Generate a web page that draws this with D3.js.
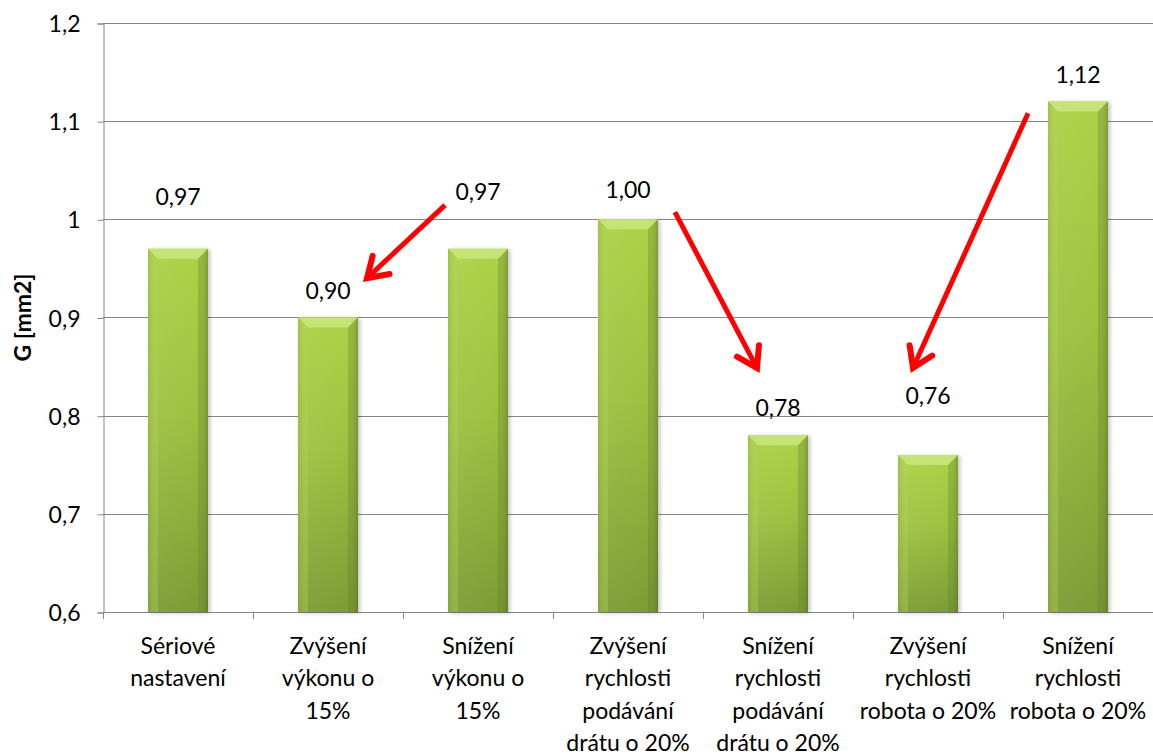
<!DOCTYPE html>
<html>
<head>
<meta charset="utf-8">
<script src="https://cdn.jsdelivr.net/npm/d3@7"></script>
<style>
  html, body { margin: 0; padding: 0; background: #fff; }
  svg text { font-family: Lato, "Open Sans", sans-serif; fill: #000; }
</style>
</head>
<body>
<svg id="chart" width="1153" height="756"></svg>
<script>
// Categories (multi-line labels) and measured values
const categories = [
  ["Sériové", "nastavení"],
  ["Zvýšení", "výkonu o", "15%"],
  ["Snížení", "výkonu o", "15%"],
  ["Zvýšení", "rychlosti", "podávání", "drátu o 20%"],
  ["Snížení", "rychlosti", "podávání", "drátu o 20%"],
  ["Zvýšení", "rychlosti", "robota o 20%"],
  ["Snížení", "rychlosti", "robota o 20%"]
];
const values = [0.97, 0.90, 0.97, 1.00, 0.78, 0.76, 1.12];
const valueLabels = ["0,97", "0,90", "0,97", "1,00", "0,78", "0,76", "1,12"];
// Value-axis level at which each data label is centred (labels were placed by hand)
const labelLevels = [1.0227, 0.927, 1.0278, 1.0299, 0.8078, 0.820, 1.147];
const yTicks = [0.6, 0.7, 0.8, 0.9, 1.0, 1.1, 1.2];
const yTickLabels = ["0,6", "0,7", "0,8", "0,9", "1", "1,1", "1,2"];
const yTitle = "G [mm2]";
// Annotation arrows: [category position, value] from -> to
const arrowFrom = [[2.28, 1.0145], [3.813, 1.0073], [6.167, 1.108]];
const arrowTo   = [[1.76, 0.940],  [4.36, 0.8485],  [5.40, 0.8485]];

const svg = d3.select("#chart");
const plotLeft = 103, plotRight = 1153, plotTop = 23, plotBottom = 612;

const x = d3.scaleBand().domain(d3.range(categories.length))
  .range([plotLeft, plotRight]).paddingInner(0.6).paddingOuter(0.3);
const xPos = d3.scaleLinear().domain([0, categories.length]).range([plotLeft, plotRight]);
const y = d3.scaleLinear().domain([0.6, 1.2]).range([plotBottom, plotTop]);

const defs = svg.append("defs");
const grad = defs.append("linearGradient").attr("id", "barGrad")
  .attr("x1", 0).attr("y1", 0).attr("x2", 0).attr("y2", 1);
grad.append("stop").attr("offset", "0%").attr("stop-color", "#acd247");
grad.append("stop").attr("offset", "45%").attr("stop-color", "#9cc240");
grad.append("stop").attr("offset", "100%").attr("stop-color", "#7b9c34");

const sideGrad = defs.append("linearGradient").attr("id", "sideGrad")
  .attr("x1", 0).attr("y1", 0).attr("x2", 1).attr("y2", 0);
sideGrad.append("stop").attr("offset", "0%").attr("stop-color", "#000").attr("stop-opacity", 0.12);
sideGrad.append("stop").attr("offset", "12%").attr("stop-color", "#fff").attr("stop-opacity", 0.05);
sideGrad.append("stop").attr("offset", "85%").attr("stop-color", "#fff").attr("stop-opacity", 0.0);
sideGrad.append("stop").attr("offset", "100%").attr("stop-color", "#000").attr("stop-opacity", 0.18);

const shadow = defs.append("filter").attr("id", "shadow")
  .attr("x", "-20%").attr("y", "-5%").attr("width", "140%").attr("height", "110%");
shadow.append("feGaussianBlur").attr("in", "SourceAlpha").attr("stdDeviation", 2).attr("result", "b");
shadow.append("feOffset").attr("in", "b").attr("dx", 2).attr("dy", 1).attr("result", "o");
shadow.append("feComponentTransfer").attr("in", "o").attr("result", "s")
  .append("feFuncA").attr("type", "linear").attr("slope", 0.25);
const merge = shadow.append("feMerge");
merge.append("feMergeNode").attr("in", "s");
merge.append("feMergeNode").attr("in", "SourceGraphic");

// Horizontal gridlines
svg.append("g").selectAll("line").data(yTicks).join("line")
  .attr("x1", plotLeft).attr("x2", plotRight)
  .attr("y1", d => Math.round(y(d)) + 0.5).attr("y2", d => Math.round(y(d)) + 0.5)
  .attr("stroke", "#868686").attr("stroke-width", 1);

// Y axis
const yAxis = d3.axisLeft(y).tickValues(yTicks)
  .tickFormat((d, i) => yTickLabels[i]).tickSize(6).tickPadding(17);
const gy = svg.append("g").attr("transform", `translate(${plotLeft + 0.5},0.5)`).call(yAxis);
gy.select(".domain").attr("stroke", "#868686");
gy.selectAll(".tick line").attr("stroke", "#868686");
gy.selectAll(".tick text").attr("font-size", 23).attr("dy", "0.35em")
  .style("font-family", "Lato, sans-serif");

// X axis baseline with tick marks at category boundaries
svg.append("line").attr("x1", plotLeft).attr("x2", plotRight)
  .attr("y1", plotBottom + 0.5).attr("y2", plotBottom + 0.5).attr("stroke", "#868686");
svg.append("g").selectAll("line").data(d3.range(categories.length + 1)).join("line")
  .attr("x1", d => Math.round(xPos(d)) + 0.5).attr("x2", d => Math.round(xPos(d)) + 0.5)
  .attr("y1", plotBottom).attr("y2", plotBottom + 7)
  .attr("stroke", "#868686");

// Bars
const bars = svg.append("g").selectAll("g").data(values).join("g")
  .attr("filter", "url(#shadow)");
bars.append("rect")
  .attr("x", (d, i) => x(i)).attr("width", x.bandwidth())
  .attr("y", d => y(d)).attr("height", d => plotBottom - y(d))
  .attr("fill", "url(#barGrad)");
bars.append("rect")
  .attr("x", (d, i) => x(i)).attr("width", x.bandwidth())
  .attr("y", d => y(d)).attr("height", d => plotBottom - y(d))
  .attr("fill", "url(#sideGrad)");
// Top bevel
bars.append("path")
  .attr("d", (d, i) => {
    const x0 = x(i), x1 = x(i) + x.bandwidth(), t = y(d), b = 10;
    return `M${x0},${t}L${x1},${t}L${x1 - b},${t + b}L${x0 + b},${t + b}Z`;
  })
  .attr("fill", "#c8e67a").attr("opacity", 0.9);
// Left bevel
bars.append("path")
  .attr("d", (d, i) => {
    const x0 = x(i), t = y(d), b = 10;
    return `M${x0},${t}L${x0 + b},${t + b}L${x0 + b},${plotBottom}L${x0},${plotBottom}Z`;
  })
  .attr("fill", "#b4d45a").attr("opacity", 0.35);
// Right bevel
bars.append("path")
  .attr("d", (d, i) => {
    const x1 = x(i) + x.bandwidth(), t = y(d), b = 10;
    return `M${x1},${t}L${x1 - b},${t + b}L${x1 - b},${plotBottom}L${x1},${plotBottom}Z`;
  })
  .attr("fill", "#5f7d22").attr("opacity", 0.3);

// Value labels
svg.append("g").selectAll("text").data(values).join("text")
  .attr("x", (d, i) => x(i) + x.bandwidth() / 2)
  .attr("y", (d, i) => y(labelLevels[i]))
  .attr("dy", "0.35em")
  .attr("text-anchor", "middle").attr("font-size", 23)
  .text((d, i) => valueLabels[i]);

// Category labels
const catG = svg.append("g").selectAll("text").data(categories).join("text")
  .attr("text-anchor", "middle").attr("font-size", 23);
catG.each(function(lines, i) {
  d3.select(this).selectAll("tspan").data(lines).join("tspan")
    .attr("x", x(i) + x.bandwidth() / 2)
    .attr("y", (l, j) => 654 + j * 32.3)
    .text(l => l);
});

// Y axis title
svg.append("text")
  .attr("transform", `translate(31,${(plotTop + plotBottom) / 2}) rotate(-90)`)
  .attr("text-anchor", "middle").attr("font-size", 23).attr("font-weight", "bold")
  .text(yTitle);

// Red annotation arrows
const arrows = svg.append("g");
arrowFrom.forEach((f, i) => {
  const t = arrowTo[i];
  const x0 = xPos(f[0]), y0 = y(f[1]), x1 = xPos(t[0]), y1 = y(t[1]);
  const ang = Math.atan2(y1 - y0, x1 - x0);
  const len = 23, spread = Math.PI / 5.5;
  const ax = x1 - len * Math.cos(ang - spread), ay = y1 - len * Math.sin(ang - spread);
  const bx = x1 - len * Math.cos(ang + spread), by = y1 - len * Math.sin(ang + spread);
  arrows.append("path")
    .attr("d", `M${x0},${y0}L${x1 - 3 * Math.cos(ang)},${y1 - 3 * Math.sin(ang)}`)
    .attr("stroke", "#ff0000").attr("stroke-width", 5).attr("fill", "none");
  arrows.append("path")
    .attr("d", `M${ax},${ay}L${x1},${y1}L${bx},${by}`)
    .attr("stroke", "#ff0000").attr("stroke-width", 6).attr("fill", "none")
    .attr("stroke-linejoin", "miter").attr("stroke-linecap", "round");
});
</script>
</body>
</html>
